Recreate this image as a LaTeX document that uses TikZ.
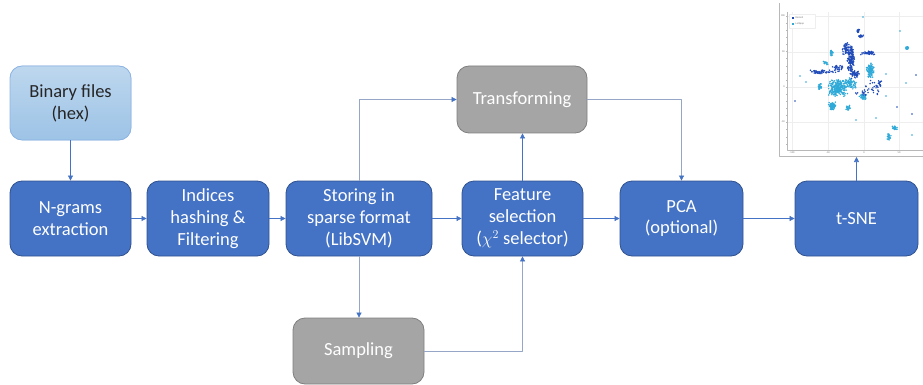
\documentclass[tikz,border=0pt]{standalone}
\usepackage{fontspec}
\setmainfont{Carlito}
\usetikzlibrary{arrows.meta}
\definecolor{boxblue}{HTML}{4472C4}
\definecolor{boxedge}{HTML}{2F528F}
\definecolor{boxgray}{HTML}{A5A5A5}
\definecolor{grayedge}{HTML}{7F7F7F}
\definecolor{srctop}{HTML}{BDD7EE}
\definecolor{srcbot}{HTML}{9DC3E6}
\definecolor{srcedge}{HTML}{8EB4E3}
\definecolor{linkgray}{HTML}{95A6C6}
\definecolor{rmcol}{HTML}{1F4AB8}
\definecolor{lpcol}{HTML}{2FAAD8}
\definecolor{axcol}{HTML}{B8B8B8}
\definecolor{gridcol}{HTML}{EEEEEE}
\tikzset{
  stepbox/.style={draw=boxedge,fill=boxblue,text=white,rounded corners=12pt,
    minimum width=121pt,minimum height=75pt,inner sep=0pt,align=center,line width=0.8pt},
  sidebox/.style={stepbox,draw=grayedge,fill=boxgray,minimum width=131pt,minimum height=66pt},
  srcbox/.style={stepbox,draw=srcedge,top color=srctop,bottom color=srcbot,text=black!85,
    minimum height=74pt},
  link/.style={->,draw=boxblue,line width=0.7pt},
  glink/.style={link,draw=linkgray},
  ticklbl/.style={font=\fontsize{2.6}{3}\selectfont,text=black!55,inner sep=0.5pt}
}
\begin{document}
\begin{tikzpicture}[x=1pt,y=-1pt,line join=round,>={Triangle[length=5pt,width=5pt,color=boxblue]},font=\fontsize{18.5}{21.8}\selectfont]
\useasboundingbox (0,0) rectangle (923,385);
% pipeline
\node[srcbox] (bin) at (70.5,103) {Binary files\\(hex)};
\node[stepbox] (ngr) at (70.5,218.5) {N-grams\\extraction};
\node[stepbox,minimum width=122pt] (idx) at (208,218.5) {Indices\\hashing \&\\Filtering};
\node[stepbox,minimum width=146pt] (sto) at (359,218.5) {Storing in\\sparse format\\(LibSVM)};
\node[stepbox] (fsel) at (522.5,218.5) {Feature\\selection\\($\chi^2$ selector)};
\node[stepbox,minimum width=123pt] (pca) at (681.5,218.5) {PCA\\(optional)};
\node[stepbox,minimum width=123pt] (tsne) at (856.5,218.5) {t-SNE};
\node[sidebox,minimum width=130pt,minimum height=67pt] (trf) at (522,99.5) {Transforming};
\node[sidebox] (smp) at (358.5,351) {Sampling};
\coordinate (plt) at (856.5,157);

\draw[link] (bin)--(ngr);
\draw[link] (ngr)--(idx);
\draw[link] (idx)--(sto);
\draw[link] (sto)--(fsel);
\draw[link] (fsel)--(pca);
\draw[link] (pca.east)--(tsne.west);
\draw[link] (tsne.north)--(plt);
\draw[link] (fsel.north)--(fsel.north|-trf.south);
\draw[glink] (sto.north)|-(trf.west);
\draw[glink] (trf.east)-|(pca.north);
\draw[glink] (sto.south)--(sto.south|-smp.north);
\draw[glink] (smp.east)-|(fsel.south);

% t-SNE plot
\draw[axcol,line width=0.5pt] (779,3)--(779,156)--(923,156);
\foreach \gx in {792,828,864,899}{\draw[gridcol,line width=0.4pt] (\gx,12)--(\gx,150);}
\foreach \gy in {16,52,87,122}{\draw[gridcol,line width=0.4pt] (787,\gy)--(923,\gy);}
\draw[axcol,line width=0.5pt] (787,12)--(787,150)--(923,150);
\foreach \i in {0,...,18}{\draw[axcol,line width=0.3pt] (786,{16+7.1*\i})--(787,{16+7.1*\i});}
\foreach \i in {0,...,18}{\draw[axcol,line width=0.3pt] ({792+7.15*\i},150)--({792+7.15*\i},151);}
\foreach \gy/\t in {16/100,52/50,87/0,122/-50}{\node[ticklbl,anchor=east] (yl\gy) at (785.5,\gy) {\t};}
\foreach \gx/\t in {792/-100,828/-50,864/0,899/50}{\node[ticklbl,anchor=north] (xl\gx) at (\gx,151.5) {\t};}
\pgfmathsetseed{42}
\begin{scope}
\clip (787.5,12) rectangle (923,149.5);
\foreach \cx/\cy/\rx/\ry/\n/\c in {
  838/88/10/9/260/lpcol, 870/70/4/8/110/lpcol, 832/106/4/4/90/lpcol,
  832/53/2/3/25/lpcol, 820/86/2/4/30/lpcol, 863/97/4/3/40/lpcol,
  848/108/3/3/18/lpcol, 907/48/2/2/18/lpcol, 895/128/3/2/25/lpcol,
  889/137/2/4/22/lpcol, 826/63/3/2/14/lpcol, 850/83/7/6/70/lpcol,
  851/60/4/17/150/rmcol, 846/49/4/7/50/rmcol, 858/31/2/2/14/rmcol,
  861/36/3/2/16/rmcol, 868/53/8/2/45/rmcol, 822/72/14/2/50/rmcol,
  838/68/6/4/30/rmcol, 855/74/6/5/45/rmcol, 873/88/10/8/26/rmcol,
  880/83/2/4/14/rmcol, 862/92/8/6/12/rmcol}{
  \foreach \k in {1,...,\n}{
    \pgfmathsetmacro\px{\cx+\rx*(rand+rand)/2}
    \pgfmathsetmacro\py{\cy+\ry*(rand+rand)/2}
    \fill[\c] (\px,\py) circle (0.85pt);
  }
}
\foreach \px/\py/\c in {795/101/rmcol, 800/76/lpcol, 806/82/lpcol, 906/83/lpcol,
  900/31/lpcol, 863/17/lpcol, 886/74/lpcol, 897/107/rmcol, 912/114/rmcol,
  912/135/lpcol, 916/75/rmcol, 856/120/lpcol, 876/118/lpcol, 886/96/lpcol}{
  \fill[\c] (\px,\py) circle (0.85pt);
}
\end{scope}
% legend
\draw[gridcol,fill=white,line width=0.3pt] (789.5,14) rectangle (815,28);
\fill[rmcol] (791.5,17) rectangle (793.5,19);
\fill[lpcol] (791.5,23) rectangle (793.5,25);
\node[ticklbl,anchor=west] (lgrm) at (795,18) {Ramnit};
\node[ticklbl,anchor=west] (lglp) at (795,24) {Lollipop};
\end{tikzpicture}
\end{document}
